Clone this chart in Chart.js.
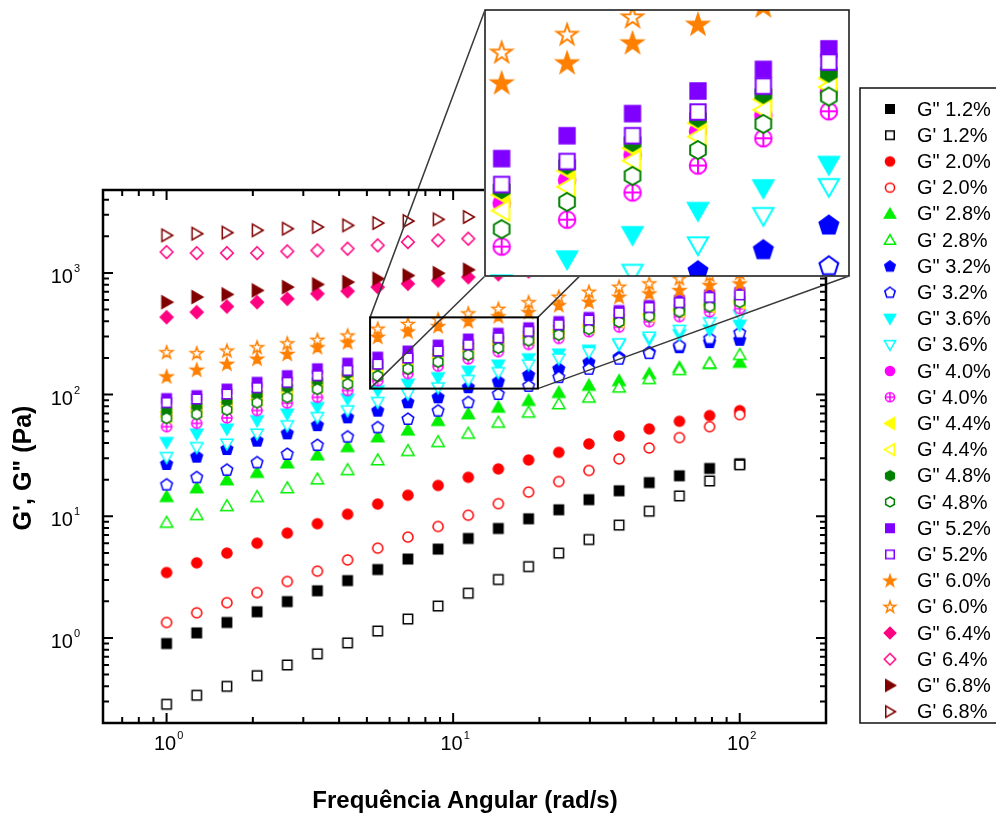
<!DOCTYPE html>
<html>
<head>
<meta charset="utf-8">
<script src="https://cdn.jsdelivr.net/npm/chart.js@4.4.0/dist/chart.umd.min.js"></script>
<style>
  body { margin: 0; background: #fff; }
  #wrap { position: relative; width: 996px; height: 814px; overflow: hidden; }
  #main { position: absolute; left: 0; top: 0; }
  #zoom { position: absolute; left: 484px; top: 9px; background: #fff; }
</style>
</head>
<body>
<div id="wrap">
  <canvas id="main" width="996" height="814"></canvas>
  <canvas id="zoom" width="366" height="268"></canvas>
</div>
<script>
// angular frequency sweep (rad/s)
const freq = [1, 1.274, 1.624, 2.069, 2.637, 3.360, 4.281, 5.456, 6.952, 8.859,
              11.29, 14.38, 18.33, 23.36, 29.76, 37.93, 48.33, 61.58, 78.48, 100];

// G'' (loss) and G' (storage) modulus in Pa for each strain amplitude
const loss12 = [0.90, 1.10, 1.34, 1.64, 1.99, 2.44, 2.96, 3.65, 4.45, 5.37, 6.57, 7.94, 9.53, 11.3, 13.7, 16.2, 18.9, 21.5, 24.7, 27.0];
const stor12 = [0.285, 0.338, 0.40, 0.49, 0.60, 0.74, 0.91, 1.14, 1.43, 1.83, 2.33, 3.02, 3.86, 4.98, 6.44, 8.46, 11.0, 14.7, 19.5, 26.5];
const loss20 = [3.45, 4.14, 4.98, 6.01, 7.27, 8.68, 10.4, 12.6, 14.9, 17.9, 20.9, 24.5, 29.0, 33.5, 39.3, 45.7, 52.2, 60.3, 67.2, 73.8];
const stor20 = [1.34, 1.61, 1.95, 2.36, 2.91, 3.54, 4.38, 5.47, 6.74, 8.24, 10.2, 12.7, 15.8, 19.3, 23.8, 29.6, 36.4, 44.3, 54.5, 68.4];
const loss28 = [14.5, 17.1, 19.9, 22.9, 27.4, 31.9, 37.3, 44.9, 51.0, 61.1, 69.4, 78.6, 89.3, 104, 119, 130, 148, 167, 180, 184];
const stor28 = [8.9, 10.3, 12.2, 14.5, 17.1, 20.2, 24.1, 29.0, 34.6, 41.0, 48.0, 59.1, 71.5, 83.8, 95.0, 115, 135, 160, 181, 213];
const loss32 = [26.9, 30.9, 35.7, 41.8, 48.0, 56.1, 65.0, 73.8, 86.4, 95, 115, 128, 145, 163, 184, 203, 223, 245, 270, 282];
const stor32 = [18.2, 20.9, 24.1, 27.7, 32.5, 38.5, 45.1, 53.8, 63.1, 73.8, 86.4, 101, 118, 139, 163, 197, 219, 253, 289, 322];
const loss36 = [40.5, 47.5, 52.2, 61.1, 69.4, 78.6, 92.2, 108, 122, 138, 156, 175, 197, 216, 232, 258, 285, 312, 340, 372];
const stor36 = [30.5, 36.8, 39.3, 47.5, 55.6, 65.0, 73.8, 86.4, 101, 114, 131, 152, 176, 197, 223, 262, 298, 338, 391, 450];
const loss40 = [69, 75, 83, 94, 107, 121, 140, 162, 182, 207, 233, 253, 285, 318, 352, 392, 432, 472, 515, 555];
const stor40 = [54.5, 58, 64.3, 74, 85, 95, 108, 130, 149, 171, 196, 225, 258, 289, 328, 358, 397, 437, 478, 508];
const loss44 = [72, 79, 86, 98, 112, 126, 146, 169, 191, 214, 243, 274, 305, 340, 375, 420, 460, 505, 550, 590];
const stor44 = [66, 73, 80, 91, 104, 117, 135, 156, 176, 201, 227, 260, 292, 325, 360, 400, 445, 485, 530, 570];
const loss48 = [74, 81, 89, 101, 115, 130, 150, 174, 197, 221, 250, 282, 314, 350, 385, 430, 470, 515, 565, 600];
const stor48 = [64, 69, 75, 86, 95, 111, 122, 142, 163, 186, 212, 242, 278, 310, 345, 395, 440, 480, 530, 575];
const loss52 = [92.7, 98, 111, 126, 143, 163, 181, 203, 228, 255, 286, 319, 354, 398, 430, 490, 540, 595, 660, 690];
const stor52 = [86, 92, 101, 114, 126, 143, 158, 178, 200, 228, 257, 293, 331, 375, 410, 470, 520, 570, 630, 660];
const loss60 = [141, 160, 179, 197, 216, 245, 269, 298, 330, 365, 401, 440, 476, 543, 579, 637, 678, 722, 794, 820];
const stor60 = [223, 219, 230, 245, 264, 282, 306, 348, 381, 416, 465, 507, 575, 637, 700, 770, 820, 900, 960, 1000];
const loss64 = [433, 476, 530, 575, 613, 674, 708, 764, 815, 867, 923, 975, 1030, 1080, 1130, 1180, 1230, 1280, 1330, 1380];
const stor64 = [1483, 1455, 1455, 1455, 1503, 1531, 1582, 1684, 1793, 1851, 1912, 1980, 2050, 2120, 2190, 2260, 2330, 2400, 2470, 2540];
const loss68 = [575, 633, 666, 718, 764, 804, 840, 896, 953, 995, 1062, 1120, 1180, 1240, 1300, 1360, 1420, 1480, 1540, 1600];
const stor68 = [2035, 2102, 2143, 2239, 2311, 2383, 2460, 2570, 2669, 2755, 2880, 3000, 3120, 3250, 3380, 3500, 3620, 3750, 3870, 4000];

const strains = ['1.2%', '2.0%', '2.8%', '3.2%', '3.6%', '4.0%', '4.4%', '4.8%', '5.2%', '6.0%', '6.4%', '6.8%'];
const lossSets = [loss12, loss20, loss28, loss32, loss36, loss40, loss44, loss48, loss52, loss60, loss64, loss68];
const storSets = [stor12, stor20, stor28, stor32, stor36, stor40, stor44, stor48, stor52, stor60, stor64, stor68];

// axis tick labels (base, exponent)
const xTickVals = [1, 10, 100];
const xTickText = [['10', '0'], ['10', '1'], ['10', '2']];
const yTickVals = [1, 10, 100, 1000];
const yTickText = [['10', '0'], ['10', '1'], ['10', '2'], ['10', '3']];

// magnified window
const zoomX = [5.13, 19.75];
const zoomY = [112, 431];

// symbol shape / colour per strain (filled = G'', open = G')
const symbols = [
  ['square', '#000000'], ['circle', '#ff0000'], ['up', '#00f000'], ['pentagon', '#0000ff'],
  ['down', '#00ffff'], ['circle', '#ff00ff'], ['left', '#ffff00'], ['hexagon', '#008000'],
  ['square', '#8000ff'], ['star', '#ff8000'], ['diamond', '#ff0080'], ['right', '#800000']
];

const FONT = '"Liberation Sans", Arial, sans-serif';

function poly(ctx, cx, cy, R, n, startDeg) {
  for (let k = 0; k < n; k++) {
    const a = (startDeg + k * 360 / n) * Math.PI / 180;
    const px = cx + R * Math.cos(a), py = cy + R * Math.sin(a);
    if (k) ctx.lineTo(px, py); else ctx.moveTo(px, py);
  }
  ctx.closePath();
}

// Origin-like symbols painted on a small canvas, used as pointStyle
function makeMarker(shape, color, filled, r, lw) {
  let dim = 2 * Math.ceil(1.35 * r + lw) + 2;
  if (dim % 2) dim++;
  const c = document.createElement('canvas');
  c.width = c.height = dim;
  const ctx = c.getContext('2d');
  const m = dim / 2;
  ctx.beginPath();
  switch (shape) {
    case 'square': { const h = 0.85 * r; ctx.rect(m - h, m - h, 2 * h, 2 * h); break; }
    case 'circle':
    case 'crosscircle': ctx.arc(m, m, 0.92 * r, 0, Math.PI * 2); break;
    case 'up': poly(ctx, m, m + 0.2 * r, 1.3 * r, 3, -90); break;
    case 'down': poly(ctx, m, m - 0.2 * r, 1.3 * r, 3, 90); break;
    case 'left': poly(ctx, m + 0.2 * r, m, 1.3 * r, 3, 180); break;
    case 'right': poly(ctx, m - 0.2 * r, m, 1.3 * r, 3, 0); break;
    case 'pentagon': poly(ctx, m, m + 0.05 * r, 1.1 * r, 5, -90); break;
    case 'hexagon': poly(ctx, m, m, 1.0 * r, 6, -90); break;
    case 'diamond': poly(ctx, m, m, 1.15 * r, 4, -90); break;
    case 'star':
      for (let k = 0; k < 10; k++) {
        const a = (-90 + k * 36) * Math.PI / 180;
        const R = k % 2 ? 0.47 * r : 1.2 * r;
        const px = m + R * Math.cos(a), py = m + 0.08 * r + R * Math.sin(a);
        if (k) ctx.lineTo(px, py); else ctx.moveTo(px, py);
      }
      ctx.closePath();
      break;
  }
  ctx.fillStyle = filled ? color : '#ffffff';
  ctx.fill();
  ctx.lineWidth = lw;
  ctx.strokeStyle = color;
  ctx.stroke();
  if (shape === 'crosscircle') {
    const q = 0.92 * r;
    ctx.beginPath();
    ctx.moveTo(m - q, m); ctx.lineTo(m + q, m);
    ctx.moveTo(m, m - q); ctx.lineTo(m, m + q);
    ctx.stroke();
  }
  return c;
}

function shapeFor(k, filled) {
  const s = symbols[k][0];
  return (!filled && k === 5) ? 'crosscircle' : s;
}

function buildSets(r, lw) {
  const sets = [];
  strains.forEach((s, k) => {
    [[lossSets[k], true], [storSets[k], false]].forEach(([vals, filled]) => {
      const idx = sets.length;
      sets.push({
        label: (filled ? 'G" ' : "G' ") + s,
        data: freq.map((f, i) => ({ x: f, y: vals[i] })),
        pointStyle: makeMarker(shapeFor(k, filled), symbols[k][1], filled, r, lw),
        pointRadius: r,
        borderWidth: 1,
        showLine: false,
        clip: 0,
        order: -idx
      });
    });
  });
  return sets;
}

// legend symbols, same order as the datasets
const legendMarks = [];
strains.forEach((s, k) => {
  legendMarks.push(makeMarker(shapeFor(k, true), symbols[k][1], true, 5, 1.5));
  legendMarks.push(makeMarker(shapeFor(k, false), symbols[k][1], false, 5, 1.5));
});

function logTicks(min, max) {
  const out = [];
  for (let e = Math.floor(Math.log10(min)); e <= Math.ceil(Math.log10(max)); e++) {
    for (let m = 1; m < 10; m++) {
      const v = m * Math.pow(10, e);
      if (v >= min * 0.999 && v <= max * 1.001) out.push({ v: v, major: m === 1 });
    }
  }
  return out;
}

function powLabel(ctx, base, exp, x, y, align) {
  ctx.font = '20px ' + FONT;
  const wb = ctx.measureText(base).width;
  ctx.font = '11px ' + FONT;
  const we = ctx.measureText(exp).width;
  const w = wb + we + 1;
  const left = align === 'right' ? x - w : x - w / 2;
  ctx.textAlign = 'left';
  ctx.textBaseline = 'alphabetic';
  ctx.font = '20px ' + FONT;
  ctx.fillText(base, left, y);
  ctx.font = '11px ' + FONT;
  ctx.fillText(exp, left + wb + 1, y - 11);
}

const zoomBox = { left: 485, top: 10, right: 849, bottom: 276 };

const mainDecor = {
  id: 'mainDecor',
  afterDatasetsDraw(chart) {
    const ctx = chart.ctx, xs = chart.scales.x, ys = chart.scales.y;
    const x0 = xs.getPixelForValue(zoomX[0]), x1 = xs.getPixelForValue(zoomX[1]);
    const y0 = ys.getPixelForValue(zoomY[1]), y1 = ys.getPixelForValue(zoomY[0]);
    ctx.save();
    ctx.strokeStyle = '#3a3a3a';
    ctx.lineWidth = 1.5;
    ctx.beginPath();
    ctx.moveTo(x0, y0); ctx.lineTo(zoomBox.left, zoomBox.top);
    ctx.moveTo(x1, y0); ctx.lineTo(zoomBox.right, zoomBox.top);
    ctx.moveTo(x0, y1); ctx.lineTo(zoomBox.left, zoomBox.bottom);
    ctx.moveTo(x1, y1); ctx.lineTo(zoomBox.right, zoomBox.bottom);
    ctx.stroke();
    ctx.strokeStyle = '#000';
    ctx.lineWidth = 2;
    ctx.strokeRect(x0, y0, x1 - x0, y1 - y0);
    ctx.restore();
  },
  afterDraw(chart) {
    const ctx = chart.ctx, a = chart.chartArea, xs = chart.scales.x, ys = chart.scales.y;
    ctx.save();
    ctx.strokeStyle = '#000';
    ctx.fillStyle = '#000';
    ctx.lineWidth = 2;
    ctx.beginPath();
    logTicks(xs.min, xs.max).forEach(t => {
      const px = xs.getPixelForValue(t.v), len = t.major ? 10 : 6;
      ctx.moveTo(px, a.bottom); ctx.lineTo(px, a.bottom - len);
      ctx.moveTo(px, a.top); ctx.lineTo(px, a.top + len);
    });
    logTicks(ys.min, ys.max).forEach(t => {
      const py = ys.getPixelForValue(t.v), len = t.major ? 10 : 6;
      ctx.moveTo(a.left, py); ctx.lineTo(a.left + len, py);
      ctx.moveTo(a.right, py); ctx.lineTo(a.right - len, py);
    });
    ctx.stroke();
    ctx.lineWidth = 2.5;
    ctx.strokeRect(a.left, a.top, a.right - a.left, a.bottom - a.top);

    xTickVals.forEach((v, i) => powLabel(ctx, xTickText[i][0], xTickText[i][1], xs.getPixelForValue(v) + 2, a.bottom + 27, 'center'));
    yTickVals.forEach((v, i) => powLabel(ctx, yTickText[i][0], yTickText[i][1], 80, ys.getPixelForValue(v) + 10, 'right'));

    ctx.font = 'bold 24px ' + FONT;
    ctx.textAlign = 'center';
    ctx.textBaseline = 'middle';
    ctx.fillText('Frequência Angular (rad/s)', 465, 801);
    ctx.save();
    ctx.translate(24, 468);
    ctx.rotate(-Math.PI / 2);
    ctx.font = 'bold 25px ' + FONT;
    ctx.fillText('G\', G" (Pa)', 0, 0);
    ctx.restore();

    // legend box
    ctx.lineWidth = 1.5;
    ctx.strokeStyle = '#111';
    ctx.strokeRect(860, 88, 150, 635);
    ctx.font = '20px ' + FONT;
    ctx.textAlign = 'left';
    ctx.textBaseline = 'middle';
    chart.data.datasets.forEach((ds, i) => {
      const y = 109 + i * 26.2;
      const mk = legendMarks[i];
      ctx.drawImage(mk, 890 - mk.width / 2, y - mk.height / 2);
      ctx.fillText(ds.label, 917, y + 1);
    });
    ctx.restore();
  }
};

const zoomFrame = {
  id: 'zoomFrame',
  afterDraw(chart) {
    const ctx = chart.ctx, a = chart.chartArea;
    ctx.save();
    ctx.strokeStyle = '#111';
    ctx.lineWidth = 1.5;
    ctx.strokeRect(a.left, a.top, a.right - a.left, a.bottom - a.top);
    ctx.restore();
  }
};

new Chart(document.getElementById('main'), {
  type: 'scatter',
  data: { datasets: buildSets(5.5, 1.5) },
  options: {
    responsive: false,
    animation: false,
    events: [],
    layout: { autoPadding: false, padding: { left: 103, top: 190, right: 170, bottom: 91 } },
    plugins: { legend: { display: false }, tooltip: { enabled: false } },
    scales: {
      x: { type: 'logarithmic', min: 0.6, max: 200, display: false },
      y: { type: 'logarithmic', min: 0.2, max: 4800, display: false }
    }
  },
  plugins: [mainDecor]
});

new Chart(document.getElementById('zoom'), {
  type: 'scatter',
  data: { datasets: buildSets(9, 2) },
  options: {
    responsive: false,
    animation: false,
    events: [],
    layout: { autoPadding: false, padding: 1 },
    plugins: { legend: { display: false }, tooltip: { enabled: false } },
    scales: {
      x: { type: 'logarithmic', min: zoomX[0], max: zoomX[1], display: false },
      y: { type: 'logarithmic', min: zoomY[0], max: zoomY[1], display: false }
    }
  },
  plugins: [zoomFrame]
});
</script>
</body>
</html>
